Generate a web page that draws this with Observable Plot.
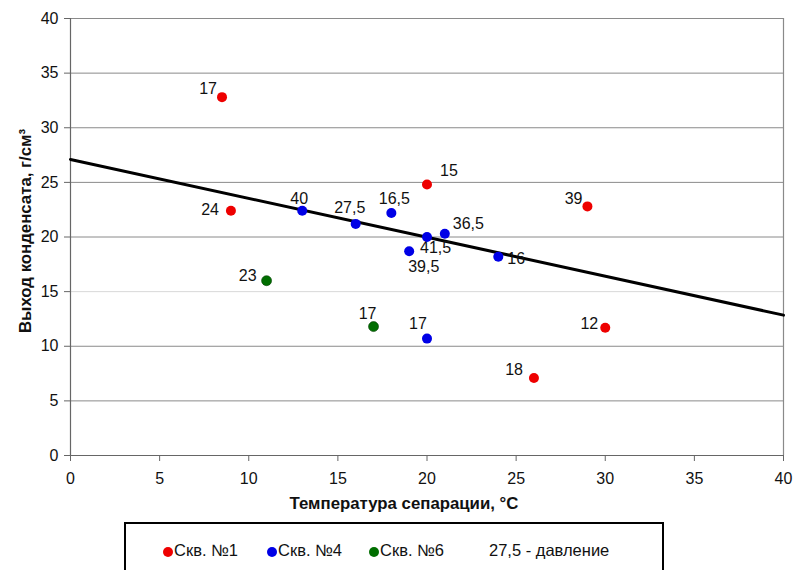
<!DOCTYPE html>
<html><head><meta charset="utf-8">
<script src="https://cdn.jsdelivr.net/npm/d3@7"></script>
<script src="https://cdn.jsdelivr.net/npm/@observablehq/plot@0.6"></script>
<style>
body{margin:0;background:#fff;font-family:"Liberation Sans",Arial,sans-serif;}
#wrap{position:relative;width:794px;height:570px;overflow:hidden;background:#fff;}
#legend{position:absolute;left:124px;top:522px;width:540px;height:70px;border:2px solid #000;box-sizing:border-box;}
.item{position:absolute;top:17px;font-size:16.5px;color:#111;white-space:nowrap;line-height:18px;}
.dot{display:inline-block;width:10px;height:10px;border-radius:50%;margin-right:1px;vertical-align:-1px;}
</style></head>
<body><div id="wrap"><div id="chart"></div><div id="legend"></div></div>
<script>
// ---- data ----
const xTitle = "Температура сепарации, °C";
const yTitle = "Выход конденсата, г/см³";
const xTicks = [0, 5, 10, 15, 20, 25, 30, 35, 40];
const yTicks = [0, 5, 10, 15, 20, 25, 30, 35, 40];
const wells = ["Скв. №1", "Скв. №4", "Скв. №6"];
const legendNote = "27,5 - давление";

const temp1 = [8.5, 9, 20, 29, 30, 26];
const cond1 = [32.8, 22.4, 24.8, 22.8, 11.7, 7.1];
const press1 = ["17", "24", "15", "39", "12", "18"];

const temp4 = [13, 16, 18, 20, 21, 19, 24, 20];
const cond4 = [22.4, 21.2, 22.2, 20.0, 20.3, 18.7, 18.2, 10.7];
const press4 = ["40", "27,5", "16,5", "41,5", "36,5", "39,5", "16", "17"];

const temp6 = [11, 17];
const cond6 = [16.0, 11.8];
const press6 = ["23", "17"];

const trendX = [0, 40];
const trendY = [27.1, 12.85];

// ---- styling / placement ----
const colors = ["#ee0000", "#0000e6", "#006e00"];
const series = [[temp1, cond1, press1], [temp4, cond4, press4], [temp6, cond6, press6]];
// label placement per point: [textAnchor, dx, dy]
const place = [
  [["end",-5,-8],["end",-12,-1],["start",13,-14],["end",-5,-8],["end",-7,-4],["end",-11,-8]],
  [["middle",-3,-12],["middle",-6,-16],["middle",3,-14],["start",-7,11],["start",8,-10],["start",-1,16],["start",9,2],["middle",-9,-15]],
  [["end",-10,-5],["middle",-6,-13]]
];

const points = [];
series.forEach(([xs, ys, ls], s) => xs.forEach((x, i) => points.push({x, y: ys[i], label: ls[i], s, i})));
const trend = trendX.map((x, i) => ({x, y: trendY[i]}));

const labelMarks = points.map(p => {
  const [a, dx, dy] = place[p.s][p.i];
  return Plot.text([p], {x: "x", y: "y", text: "label", textAnchor: a, dx, dy, fill: "#111", fontSize: 16});
});

const chart = Plot.plot({
  width: 794, height: 515,
  marginLeft: 70, marginRight: 11, marginTop: 18, marginBottom: 60,
  x: {domain: [0, 40]},
  y: {domain: [0, 40]},
  style: {fontFamily: "'Liberation Sans', Arial, sans-serif", fontSize: "16px", color: "#111", background: "white"},
  marks: [
    Plot.ruleY(yTicks.filter(v => v > 0 && v !== 15), {stroke: "#8a8a8a", strokeWidth: 1}),
    Plot.ruleY(yTicks.filter(v => v === 15), {stroke: "#d8d8d8", strokeWidth: 1}),
    Plot.ruleX([40], {stroke: "#8a8a8a", strokeWidth: 1.2}),
    Plot.ruleX([0], {stroke: "#666", strokeWidth: 1.2}),
    Plot.ruleY([0], {stroke: "#666", strokeWidth: 1.2}),
    Plot.axisX({ticks: xTicks, tickSize: 6, tickPadding: 11, label: null, stroke: "#666", fontSize: 16}),
    Plot.axisY({ticks: yTicks, tickSize: 6, tickPadding: 6, label: null, stroke: "#666", fontSize: 16}),
    Plot.text([xTitle], {frameAnchor: "bottom", dx: -23, dy: 48, textAnchor: "middle", lineAnchor: "middle", fontWeight: "bold", fontSize: 16.8, fill: "#111"}),
    Plot.text([yTitle], {frameAnchor: "left", dx: -45, dy: -6, rotate: -90, textAnchor: "middle", lineAnchor: "middle", fontWeight: "bold", fontSize: 16.8, fill: "#111"}),
    Plot.line(trend, {x: "x", y: "y", stroke: "#000", strokeWidth: 3}),
    ...labelMarks,
    ...series.map(([xs, ys], s) => Plot.dot(points.filter(p => p.s === s), {x: "x", y: "y", r: 5, fill: colors[s], stroke: s === 2 ? "#004000" : "none", strokeWidth: 0.6}))
  ]
});
document.getElementById("chart").appendChild(chart);

// legend
const legend = document.getElementById("legend");
const lx = [37, 141, 243];
wells.forEach((w, k) => {
  const d = document.createElement("div");
  d.className = "item";
  d.style.left = lx[k] + "px";
  d.innerHTML = `<span class="dot" style="background:${colors[k]}"></span>${w}`;
  legend.appendChild(d);
});
const note = document.createElement("div");
note.className = "item";
note.style.left = "363px";
note.textContent = legendNote;
legend.appendChild(note);
</script>
</body></html>
